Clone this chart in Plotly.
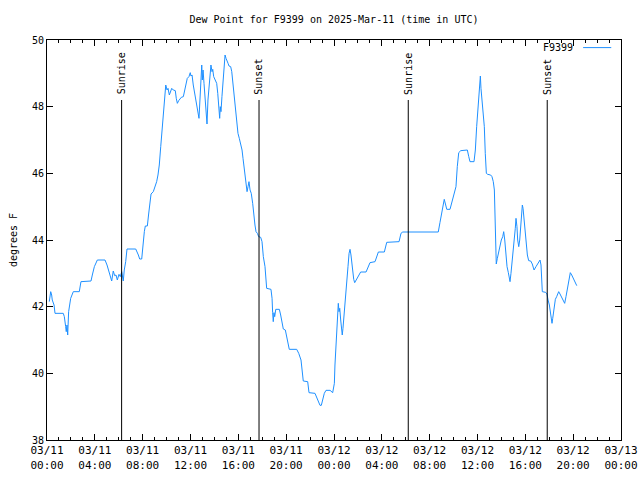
import pandas as pd
import plotly.graph_objects as go

start = pd.Timestamp("2025-03-11 00:00")

# hours since 2025-03-11 00:00 UTC, dew point (F)
hours = [0.19, 0.31, 0.39, 0.44, 0.59, 0.67, 1.36, 1.45, 1.56, 1.61, 1.67, 1.73, 1.81, 1.90, 1.98,
         2.20, 2.70, 2.84, 3.68, 3.79, 3.96, 4.21, 4.85, 5.02, 5.18, 5.29, 5.41, 5.54, 5.66, 5.77,
         5.88, 6.02, 6.13, 6.25, 6.38, 6.46, 6.58, 6.69, 7.42, 7.64, 7.75, 7.92, 8.03, 8.05, 8.14,
         8.22, 8.39, 8.50, 8.61, 8.70, 8.89, 9.06, 9.17, 9.28, 9.39, 9.51, 9.59, 9.68, 9.76, 9.84,
         9.93, 10.04, 10.12, 10.23, 10.31, 10.43, 10.56, 10.73, 10.81, 10.90, 11.01, 11.12, 11.23,
         11.40, 11.52, 11.62, 11.73, 11.87, 11.98, 12.04, 12.13, 12.23, 12.35, 12.44, 12.54, 12.63,
         12.71, 12.79, 12.88, 12.94, 12.99, 13.05, 13.13, 13.21, 13.30, 13.38, 13.46, 13.55, 13.63,
         13.71, 13.80, 13.86, 13.94, 14.05, 14.19, 14.28, 14.36, 14.44, 14.49, 14.55, 14.63, 14.72,
         14.80, 14.89, 14.97, 15.05, 15.14, 15.22, 15.36, 15.45, 15.53, 15.64, 15.75, 15.86, 15.97,
         16.08, 16.20, 16.31, 16.39, 16.47, 16.56, 16.64, 16.73, 16.81, 16.89, 16.98, 17.08, 17.20,
         17.29, 17.39, 17.48, 17.59, 17.70, 17.87, 17.98, 18.09, 18.23, 18.31, 18.37, 18.73, 18.82,
         18.87, 18.92, 18.98, 19.04, 19.13, 19.43, 19.54, 19.65, 19.76, 19.93, 20.05, 20.13, 20.26,
         20.88, 21.05, 21.24, 21.32, 21.43, 21.80, 21.91, 22.41, 22.55, 22.72, 22.83, 22.94, 23.06,
         23.19, 23.33, 23.67, 23.89, 24.03, 24.08, 24.17, 24.23, 24.31, 24.36, 24.42, 24.48, 24.56,
         24.64, 24.69, 24.75, 24.84, 24.92, 25.00, 25.09, 25.17, 25.26, 25.34, 25.42, 25.53, 25.65,
         25.73, 25.84, 26.03, 26.23, 26.68, 26.82, 27.01, 27.43, 27.57, 27.71, 28.21, 28.32, 28.41,
         29.44, 29.60, 29.75, 32.72, 32.86, 33.01, 33.12, 33.22, 33.34, 33.43, 33.70, 33.84, 34.04,
         34.20, 34.31, 34.43, 34.60, 35.15, 35.27, 35.37, 35.71, 35.82, 35.93, 36.02, 36.10, 36.19,
         36.24, 36.29, 36.38, 36.46, 36.57, 36.65, 36.74, 36.85, 37.10, 37.21, 37.32, 37.41, 37.46,
         37.52, 37.57, 37.66, 37.77, 37.88, 37.99, 38.11, 38.19, 38.28, 38.36, 38.47, 38.58, 38.66,
         38.72, 38.80, 38.89, 38.97, 39.08, 39.16, 39.22, 39.30, 39.36, 39.45, 39.53, 39.61, 39.70,
         39.75, 39.81, 39.89, 39.97, 40.06, 40.17, 40.28, 40.45, 40.58, 40.73, 40.89, 41.06, 41.23,
         41.31, 41.37, 41.42, 41.70, 41.81, 41.90, 42.01, 42.13, 42.23, 42.29, 42.40, 42.51, 42.62,
         42.79, 42.90, 43.04, 43.18, 43.29, 43.40, 43.51, 43.65, 43.76, 43.88, 44.01, 44.15, 44.30]

dewpoint = [42.15, 42.45, 42.35, 42.2, 42.05, 41.8, 41.8, 41.7, 41.4, 41.25, 41.45, 41.15, 41.85, 42.15, 42.25,
            42.45, 42.45, 42.75, 42.77, 42.95, 43.2, 43.4, 43.4, 43.25, 43.05, 42.85, 42.77, 43.07, 42.93, 42.95,
            42.8, 42.97, 42.9, 43.05, 42.77, 43.1, 43.35, 43.73, 43.73, 43.55, 43.43, 43.43, 43.85, 44.02, 44.25,
            44.42, 44.42, 44.78, 45.05, 45.38, 45.45, 45.6, 45.75, 45.95, 46.25, 46.8, 47.2, 47.65, 48.0, 48.5,
            48.65, 48.5, 48.55, 48.35, 48.45, 48.55, 48.5, 48.48, 48.25, 48.1, 48.18, 48.25, 48.28,
            48.3, 48.5, 48.72, 48.85, 48.9, 49.02, 48.92, 48.95, 48.65, 48.4, 48.15, 47.95, 47.85,
            47.65, 48.2, 48.82, 49.25, 48.8, 49.1, 48.7, 48.25, 47.75, 47.48, 48.2, 48.7, 49.0,
            49.25, 49.05, 49.12, 48.9, 48.8, 48.7, 48.4, 48.05, 47.65, 48.0, 47.85, 48.3, 48.75,
            49.1, 49.55, 49.45, 49.4, 49.3, 49.22, 49.2, 49.05, 48.75, 48.4, 47.9, 47.45, 47.2,
            47.05, 46.9, 46.7, 46.45, 46.2, 45.95, 45.7, 45.45, 45.6, 45.75, 45.5, 45.4, 45.1,
            44.7, 44.45, 44.25, 44.2, 44.1, 44.08, 43.95, 43.5, 43.2, 42.9, 42.55, 42.52, 42.25,
            41.82, 41.55, 41.82, 41.7, 41.92, 41.92, 41.75, 41.5, 41.33, 41.3, 41.1, 40.92, 40.72,
            40.72, 40.6, 40.4, 40.05, 39.77, 39.75, 39.42, 39.4, 39.28, 39.12, 39.04, 39.04, 39.2,
            39.4, 39.49, 39.49, 39.42, 39.7, 40.25, 40.8, 41.32, 41.85, 42.1, 41.85, 41.95, 41.6,
            41.35, 41.15, 41.35, 41.7, 42.1, 42.45, 42.82, 43.2, 43.6, 43.72, 43.55, 43.1, 42.82,
            42.72, 42.8, 42.92, 43.04, 43.04, 43.15, 43.32, 43.35, 43.52, 43.64, 43.64, 43.85, 43.93,
            43.95, 44.2, 44.24, 44.24, 44.52, 44.85, 45.1, 45.22, 45.05, 44.92, 44.92, 45.1, 45.35,
            45.6, 46.2, 46.62, 46.68, 46.7, 46.5, 46.35, 46.35, 46.7, 47.4, 47.9, 48.3, 48.7,
            48.92, 48.55, 48.1, 47.7, 47.4, 46.6, 46.0, 45.97, 45.95, 45.9, 45.75, 45.5, 44.85,
            44.0, 43.28, 43.45, 43.65, 43.85, 44.0, 44.1, 44.25, 44.0, 43.6, 43.2, 43.02, 42.9,
            42.75, 43.0, 43.3, 43.6, 44.0, 44.35, 44.65, 44.4, 44.0, 43.8, 44.0, 44.4, 44.7,
            45.05, 44.95, 44.6, 44.25, 43.9, 43.55, 43.38, 43.37, 43.28, 43.1, 43.2, 43.3, 43.4,
            43.25, 42.8, 42.45, 42.43, 42.38, 42.2, 42.05, 41.75, 41.5, 41.65, 41.95, 42.22, 42.3,
            42.45, 42.38, 42.28, 42.18, 42.1, 42.3, 42.55, 42.8, 43.02, 42.95, 42.85, 42.75, 42.63]

sun_hours = [6.24, 17.73, 30.21, 41.83]
sun_labels = ["Sunrise", "Sunset", "Sunrise", "Sunset"]

tick_hours = list(range(0, 49, 4))
tick_times = [start + pd.Timedelta(hours=h) for h in tick_hours]
tick_text = [f"{t:%m/%d}<br>{t:%H:%M}" for t in tick_times]

times = [start + pd.Timedelta(hours=h) for h in hours]
sun_times = [start + pd.Timedelta(hours=h) for h in sun_hours]

FONT = "DejaVu Sans Mono"
LINE_COLOR = "#1e90ff"

fig = go.Figure()
fig.add_trace(go.Scatter(x=times, y=dewpoint, mode="lines",
                         line=dict(color=LINE_COLOR, width=1), name="F9399",
                         showlegend=False))

shapes = []
annotations = []
for t, lab in zip(sun_times, sun_labels):
    shapes.append(dict(type="line", xref="x", yref="y", x0=t, x1=t, y0=38, y1=48.2,
                       line=dict(color="black", width=1)))
    annotations.append(dict(x=t, y=48.3, xref="x", yref="y", text=lab, textangle=-90,
                            showarrow=False, xanchor="center", yanchor="bottom",
                            font=dict(family=FONT, size=10, color="black")))

# legend drawn gnuplot-style (text left of sample)
annotations.append(dict(x=0.919, y=0.981, xref="paper", yref="paper", text="F9399",
                        showarrow=False, xanchor="right", yanchor="middle",
                        font=dict(family=FONT, size=10, color="black")))
shapes.append(dict(type="line", xref="paper", yref="paper", x0=0.934, x1=0.983,
                   y0=0.981, y1=0.981, line=dict(color=LINE_COLOR, width=1)))

fig.update_layout(
    width=640, height=480,
    margin=dict(l=47, r=19, t=40, b=40, autoexpand=False),
    paper_bgcolor="white", plot_bgcolor="white",
    font=dict(family=FONT, size=10, color="black"),
    title=dict(text="Dew Point for F9399 on 2025-Mar-11 (time in UTC)",
               x=0.5, xref="paper", xanchor="center",
               y=1 - 19 / 480, yref="container", yanchor="middle",
               font=dict(family=FONT, size=10, color="black")),
    shapes=shapes, annotations=annotations,
    showlegend=False,
)
fig.update_xaxes(range=[start, start + pd.Timedelta(hours=48)],
                 tickvals=tick_times, ticktext=tick_text, automargin=False,
                 ticks="inside", ticklen=6, tickcolor="black",
                 showline=True, linecolor="black", linewidth=1, mirror="ticks",
                 showgrid=False, zeroline=False,
                 minor=dict(dtick=3600000, ticks="inside", ticklen=3, tickcolor="black", showgrid=False),
                 tickfont=dict(family=FONT, size=11))
fig.update_yaxes(range=[38, 50], dtick=2, tick0=38, automargin=False,
                 ticks="inside", ticklen=6, tickcolor="black",
                 showline=True, linecolor="black", linewidth=1, mirror="ticks",
                 showgrid=False, zeroline=False,
                 title=dict(text="degrees F", font=dict(family=FONT, size=10), standoff=12),
                 tickfont=dict(family=FONT, size=10))

fig.write_html("out.html")
